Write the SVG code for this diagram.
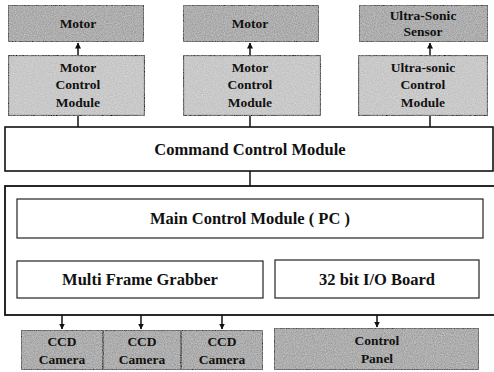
<svg xmlns="http://www.w3.org/2000/svg" width="494" height="372" viewBox="0 0 494 372" font-family="'Liberation Serif', 'DejaVu Serif', serif">
<style>
text{font-family:'Liberation Serif','DejaVu Serif',serif;font-weight:bold;fill:#111;text-anchor:middle}
.dev{fill:#999;stroke:#111;stroke-width:1.6}
.mod{fill:#bdbdbd;stroke:#111;stroke-width:2.2}
.wb{fill:#fff;stroke:#222;stroke-width:1.2}
.t13{font-size:13.5px}
.t15{font-size:16.5px}
.ln{stroke:#111;stroke-width:1.5;fill:none}
</style>
<defs>
<filter id="tex" x="0" y="0" width="1" height="1">
<feTurbulence type="fractalNoise" baseFrequency="0.9" numOctaves="2" seed="3" result="n"/>
<feColorMatrix in="n" type="matrix" values="0 0 0 0 1  0 0 0 0 1  0 0 0 0 1  0 0 0 0.5 -0.1" result="d"/>
<feComposite in="d" in2="SourceGraphic" operator="atop" result="c"/>
<feMerge><feMergeNode in="SourceGraphic"/><feMergeNode in="c"/></feMerge>
</filter>
<marker id="ar" viewBox="0 0 6 6" refX="5.5" refY="3" markerWidth="6" markerHeight="6" orient="auto" markerUnits="userSpaceOnUse">
<path d="M0,0 L6,3 L0,6 z" fill="#111"/>
</marker>
</defs>

<g id="connectors">
<line class="ln" x1="78" y1="55" x2="78" y2="43" marker-end="url(#ar)"/>
<line class="ln" x1="250" y1="55" x2="250" y2="43" marker-end="url(#ar)"/>
<line class="ln" x1="430" y1="55" x2="430" y2="43" marker-end="url(#ar)"/>
<line class="ln" x1="78" y1="116" x2="78" y2="127"/>
<line class="ln" x1="250" y1="116" x2="250" y2="127"/>
<line class="ln" x1="430" y1="116" x2="430" y2="127"/>
<line class="ln" x1="250" y1="171" x2="250" y2="186"/>
<line class="ln" x1="62" y1="298" x2="62" y2="329" marker-end="url(#ar)"/>
<line class="ln" x1="141" y1="298" x2="141" y2="329" marker-end="url(#ar)"/>
<line class="ln" x1="222" y1="298" x2="222" y2="329" marker-end="url(#ar)"/>
<line class="ln" x1="377" y1="298" x2="377" y2="327" marker-end="url(#ar)"/>
</g>

<g id="motor1"><rect class="dev" x="8" y="5" width="136" height="37" filter="url(#tex)"/><text class="t13" x="78" y="28">Motor</text></g>
<g id="motor2"><rect class="dev" x="183" y="5" width="136" height="37" filter="url(#tex)"/><text class="t13" x="250" y="28">Motor</text></g>
<g id="sensor"><rect class="dev" x="359" y="5" width="129" height="37" filter="url(#tex)"/><text class="t13" x="423" y="20">Ultra-Sonic</text><text class="t13" x="423" y="36">Sensor</text></g>

<g id="mcm1"><rect class="mod" x="8" y="55" width="137" height="61" filter="url(#tex)"/><text class="t13" x="78" y="72">Motor</text><text class="t13" x="78" y="89">Control</text><text class="t13" x="78" y="107">Module</text></g>
<g id="mcm2"><rect class="mod" x="183" y="55" width="138" height="61" filter="url(#tex)"/><text class="t13" x="250" y="72">Motor</text><text class="t13" x="250" y="89">Control</text><text class="t13" x="250" y="107">Module</text></g>
<g id="ucm"><rect class="mod" x="358" y="55" width="130" height="61" filter="url(#tex)"/><text class="t13" x="423" y="72">Ultra-sonic</text><text class="t13" x="423" y="89">Control</text><text class="t13" x="423" y="107">Module</text></g>

<g id="ccm"><rect x="5" y="127" width="488" height="44" fill="#fff" stroke="#111" stroke-width="1.6"/><text class="t15" x="250" y="155">Command Control Module</text></g>

<g id="main"><rect x="5" y="186" width="500" height="129" fill="#fff" stroke="#111" stroke-width="1.8"/></g>
<g id="pc"><rect class="wb" x="17" y="199" width="466" height="39"/><text class="t15" x="250" y="224">Main Control Module ( PC )</text></g>
<g id="mfg"><rect class="wb" x="17" y="261" width="246" height="37"/><text class="t15" x="140" y="285">Multi Frame Grabber</text></g>
<g id="io"><rect class="wb" x="275" y="260" width="204" height="38"/><text class="t15" x="377" y="285">32 bit I/O Board</text></g>

<g id="cam1"><rect class="dev" x="21" y="330" width="82" height="40" filter="url(#tex)"/><text class="t13" x="62" y="346">CCD</text><text class="t13" x="62" y="364">Camera</text></g>
<g id="cam2"><rect class="dev" x="103" y="330" width="78" height="40" filter="url(#tex)"/><text class="t13" x="142" y="346">CCD</text><text class="t13" x="142" y="364">Camera</text></g>
<g id="cam3"><rect class="dev" x="181" y="330" width="82" height="40" filter="url(#tex)"/><text class="t13" x="222" y="346">CCD</text><text class="t13" x="222" y="364">Camera</text></g>
<g id="panel"><rect class="dev" x="274" y="328" width="205" height="42" filter="url(#tex)"/><text class="t13" x="377" y="345">Control</text><text class="t13" x="377" y="363">Panel</text></g>
</svg>
